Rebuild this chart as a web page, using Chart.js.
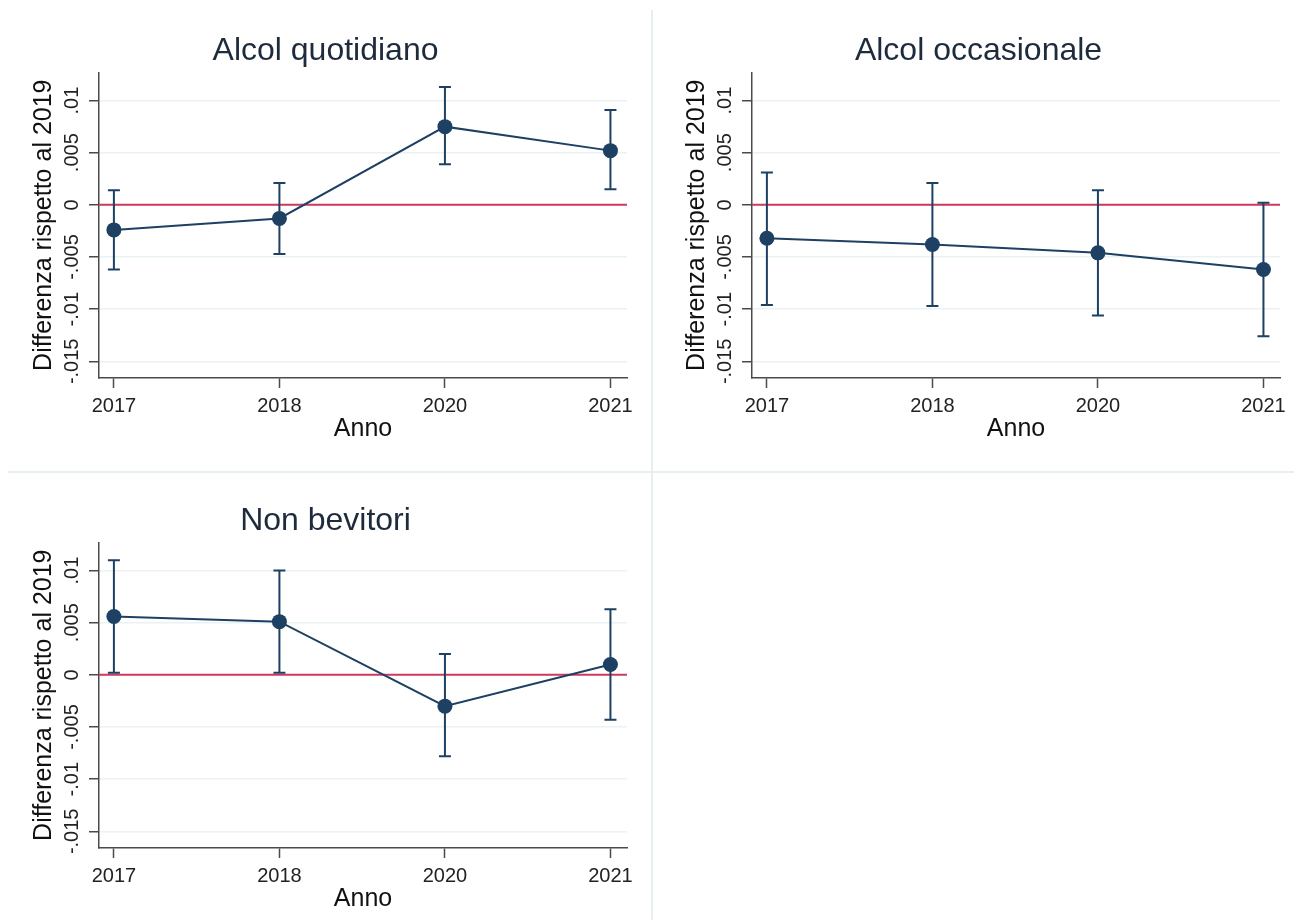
<!DOCTYPE html>
<html>
<head>
<meta charset="utf-8">
<script src="https://cdn.jsdelivr.net/npm/chart.js@4.4.1/dist/chart.umd.min.js"></script>
<style>
  body { margin: 0; background: #fff; width: 1294px; height: 920px; position: relative; overflow: hidden; }
  canvas { position: absolute; }
  .sep { position: absolute; background: #e6eef0; }
</style>
</head>
<body>
<canvas id="c1" width="651" height="470" style="left:0;top:0"></canvas>
<canvas id="c2" width="651" height="470" style="left:653px;top:0"></canvas>
<canvas id="c3" width="651" height="470" style="left:0;top:470px"></canvas>
<div class="sep" style="left:651px;top:10px;width:2px;height:910px"></div>
<div class="sep" style="left:8px;top:471px;width:1286px;height:2px"></div>

<script>
// categories and tick labels
const years = ['2017', '2018', '2020', '2021']
const yTicks = [-0.015, -0.01, -0.005, 0, 0.005, 0.01]
const yTickLabels = ['-.015', '-.01', '-.005', '0', '.005', '.01']

// Alcol quotidiano
const quotPoint = [-0.0024, -0.0013, 0.0075, 0.0052]
const quotLo = [-0.0062, -0.0047, 0.0039, 0.0015]
const quotHi = [0.0014, 0.0021, 0.0113, 0.0091]

// Alcol occasionale
const occPoint = [-0.0032, -0.0038, -0.0046, -0.0062]
const occLo = [-0.0096, -0.0097, -0.0106, -0.0126]
const occHi = [0.0031, 0.0021, 0.0014, 0.0002]

// Non bevitori
const nonPoint = [0.0056, 0.0051, -0.0030, 0.0010]
const nonLo = [0.0002, 0.0002, -0.0078, -0.0043]
const nonHi = [0.0110, 0.0100, 0.0020, 0.0063]

const navy = '#1d4063'
const refRed = '#d03a5c'
const axisColor = '#4a4a4a'
const gridColor = '#eaf2f3'

Chart.defaults.font.family = '"Liberation Sans", Arial, sans-serif'

// zero line, CI whiskers, rotated y tick labels
const extras = {
  id: 'extras',
  beforeDatasetsDraw (chart, args, opts) {
    const { ctx, chartArea: a, scales: { x, y } } = chart
    ctx.save()
    const y0 = y.getPixelForValue(0)
    ctx.strokeStyle = refRed
    ctx.lineWidth = 2
    ctx.beginPath(); ctx.moveTo(a.left, y0); ctx.lineTo(a.right, y0); ctx.stroke()

    ctx.strokeStyle = navy
    ctx.lineWidth = 2
    opts.lo.forEach((lo, i) => {
      const px = x.getPixelForValue(i)
      const pLo = y.getPixelForValue(lo)
      const pHi = y.getPixelForValue(opts.hi[i])
      ctx.beginPath()
      ctx.moveTo(px, pLo); ctx.lineTo(px, pHi)
      ctx.moveTo(px - 6, pLo); ctx.lineTo(px + 6, pLo)
      ctx.moveTo(px - 6, pHi); ctx.lineTo(px + 6, pHi)
      ctx.stroke()
    })
    ctx.restore()
  },
  afterDraw (chart) {
    const { ctx, scales: { y } } = chart
    ctx.save()
    ctx.fillStyle = '#222'
    ctx.font = '20px "Liberation Sans", Arial, sans-serif'
    ctx.textAlign = 'center'
    ctx.textBaseline = 'middle'
    yTicks.forEach((v, i) => {
      ctx.save()
      ctx.translate(72, y.getPixelForValue(v))
      ctx.rotate(-Math.PI / 2)
      ctx.fillText(yTickLabels[i], 0, 0)
      ctx.restore()
    })
    ctx.restore()
  }
}

function makePanel (id, title, points, lo, hi) {
  return new Chart(document.getElementById(id), {
    type: 'line',
    data: {
      datasets: [{
        data: points.map((v, i) => ({ x: i, y: v })),
        borderColor: navy,
        borderWidth: 2,
        backgroundColor: navy,
        pointRadius: 7.5,
        pointBorderWidth: 0,
        pointBackgroundColor: navy,
        tension: 0
      }]
    },
    options: {
      responsive: false,
      animation: false,
      layout: { padding: 0 },
      plugins: {
        legend: { display: false },
        tooltip: { enabled: false },
        title: {
          display: true, text: title, color: '#1e2b3c',
          font: { size: 32, weight: 'normal' }, padding: { top: 32, bottom: 2 }
        },
        extras: { lo, hi }
      },
      scales: {
        x: {
          type: 'linear', min: -0.09, max: 3.1,
          afterBuildTicks: s => { s.ticks = years.map((_, i) => ({ value: i })) },
          afterFit: s => { s.height = 92 },
          grid: { drawOnChartArea: false, tickLength: 10, tickColor: axisColor, tickWidth: 1.5 },
          border: { color: axisColor, width: 1.5 },
          ticks: { autoSkip: false, maxRotation: 0, padding: 6, color: '#222', font: { size: 20 }, callback: v => years[v] },
          title: { display: true, text: 'Anno', color: '#111', font: { size: 25 }, padding: { top: 0, bottom: 26 } }
        },
        y: {
          min: -0.0166, max: 0.0127,
          afterBuildTicks: s => { s.ticks = yTicks.map(v => ({ value: v })) },
          afterFit: s => { s.width = 99 },
          grid: { color: gridColor, lineWidth: 1.5, tickLength: 10, tickColor: axisColor, tickWidth: 1.5 },
          border: { color: axisColor, width: 1.5 },
          ticks: { display: false },
          title: { display: true, text: 'Differenza rispetto al 2019', color: '#111', font: { size: 25 }, padding: { top: 29, bottom: 0 } }
        },
        // empty right margin so the title centres on the whole panel
        yRight: {
          position: 'right',
          afterFit: s => { s.width = 24 },
          grid: { display: false },
          border: { display: false },
          ticks: { display: false }
        }
      }
    },
    plugins: [extras]
  })
}

makePanel('c1', 'Alcol quotidiano', quotPoint, quotLo, quotHi)
makePanel('c2', 'Alcol occasionale', occPoint, occLo, occHi)
makePanel('c3', 'Non bevitori', nonPoint, nonLo, nonHi)
</script>
</body>
</html>
